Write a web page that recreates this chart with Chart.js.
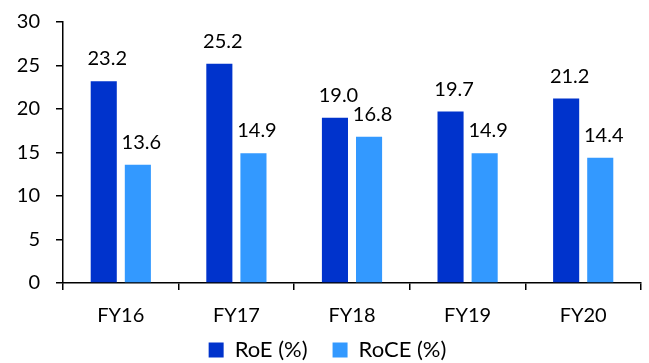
<!DOCTYPE html>
<html>
<head>
<meta charset="utf-8">
<script src="https://cdn.jsdelivr.net/npm/chart.js@4/dist/chart.umd.min.js"></script>
<style>
  html, body { margin: 0; padding: 0; background: #fff; }
  #wrap { width: 649px; height: 363px; position: relative; }
</style>
</head>
<body>
<div id="wrap"><canvas id="c" width="649" height="363"></canvas></div>
<script>
// Return ratios by fiscal year
const categories = ['FY16', 'FY17', 'FY18', 'FY19', 'FY20'];
const roe = [23.2, 25.2, 19.0, 19.7, 21.2];
const roce = [13.6, 14.9, 16.8, 14.9, 14.4];
const yTicks = [0, 5, 10, 15, 20, 25, 30];

const FONT = 'Lato, "Open Sans", sans-serif';
const LEGEND_HEIGHT = 30;   // space the legend reserves below the x axis
const LEGEND_TOP = 314;     // where the legend box is drawn
const LEGEND_SHIFT = 7;     // nudge of the legend row to the right

// Writes each bar's value above it, one decimal place
const valueLabels = {
  id: 'valueLabels',
  afterDatasetsDraw(chart) {
    const ctx = chart.ctx;
    ctx.save();
    ctx.font = '20px ' + FONT;
    ctx.fillStyle = '#000';
    ctx.textAlign = 'center';
    ctx.textBaseline = 'alphabetic';
    chart.data.datasets.forEach((ds, di) => {
      chart.getDatasetMeta(di).data.forEach((bar, i) => {
        ctx.fillText(ds.data[i].toFixed(1), bar.x + 3.5, bar.y - 16);
      });
    });
    ctx.restore();
  }
};

// Keeps the legend box compact while its items stay widely spaced
const compactLegend = {
  id: 'compactLegend',
  beforeLayout(chart) {
    const lg = chart.legend;
    if (lg && !lg.__compact) {
      const fit = lg.fit;
      lg.fit = function () { fit.call(this); this.height = LEGEND_HEIGHT; };
      lg.__compact = true;
    }
  },
  afterLayout(chart) {
    const lg = chart.legend;
    if (!lg) return;
    lg.top = LEGEND_TOP;
    lg.bottom = chart.height;
    lg.height = lg.bottom - lg.top;
    lg.left += LEGEND_SHIFT;
    lg.right += LEGEND_SHIFT;
  }
};

new Chart(document.getElementById('c'), {
  type: 'bar',
  data: {
    labels: categories,
    datasets: [
      { label: 'RoE (%)', data: roe, backgroundColor: '#0033CC',
        categoryPercentage: 0.59, barPercentage: 0.765 },
      { label: 'RoCE (%)', data: roce, backgroundColor: '#3399FF',
        categoryPercentage: 0.59, barPercentage: 0.765 }
    ]
  },
  options: {
    responsive: false,
    animation: false,
    devicePixelRatio: 1,
    layout: { padding: { top: 22, right: 8, left: 0, bottom: 0 } },
    plugins: {
      tooltip: { enabled: false },
      legend: {
        position: 'bottom',
        labels: {
          boxWidth: 15, boxHeight: 15, padding: 25,
          color: '#000',
          font: { family: FONT, size: 22 }
        }
      }
    },
    scales: {
      x: {
        afterFit(scale) { scale.height = 50; },
        grid: { offset: true, drawOnChartArea: false, color: '#000', tickLength: 7, lineWidth: 1.5 },
        border: { color: '#000', width: 1.5 },
        ticks: { color: '#000', font: { family: FONT, size: 20 }, padding: 14 }
      },
      y: {
        min: 0, max: 30,
        afterBuildTicks(scale) { scale.ticks = yTicks.map(v => ({ value: v })); },
        afterFit(scale) {
          scale.width = 63;
          scale.paddingTop = 0;
          scale.paddingBottom = 0;
        },
        grid: { drawOnChartArea: false, color: '#000', tickLength: 7, lineWidth: 1.5 },
        border: { color: '#000', width: 1.5 },
        ticks: { color: '#000', font: { family: FONT, size: 20 }, padding: 16 }
      }
    }
  },
  plugins: [valueLabels, compactLegend]
});
</script>
</body>
</html>
